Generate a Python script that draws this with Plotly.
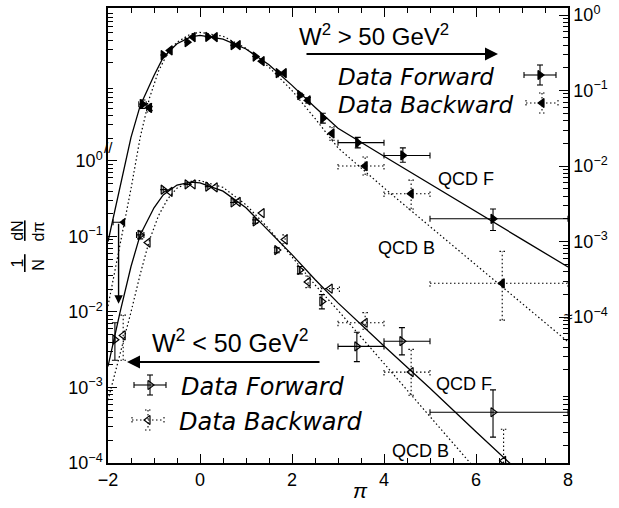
import math
import plotly.graph_objects as go

W, H = 619, 508
ML, MR, MT, MB = 108, 51, 8, 45
PW, PH = W - ML - MR, H - MT - MB      # 460 x 455
FONT = "Liberation Sans"
LFONT = "DejaVu Sans"
DOT = "1.5px,2.5px"


def P(px, py):
    """page pixel position -> fraction of plot area"""
    return (px - ML) / PW, (H - MB - py) / PH


# ---------------- QCD curves ----------------
# W^2 > 50 GeV^2 (right axis)
hiF_x = [-2.0, -1.67, -1.5, -1.3, -1.0, -0.8, -0.5, -0.2, 0.0, 0.5, 1.0, 1.5, 2.0, 2.5, 3.0, 4.0, 5.0, 6.0, 7.0, 8.0]
hiF_y = [1.0e-3, 8.7e-3, 0.024, 0.063, 0.158, 0.275, 0.417, 0.513, 0.537, 0.479, 0.355, 0.219, 0.117, 0.060,
         0.0316, 0.0135, 0.00575, 0.00245, 0.00107, 4.6e-4]
hiB_x = [-2.0, -1.8, -1.67, -1.5, -1.3, -1.1, -0.9, -0.7, -0.5, -0.2, 0.0, 0.5, 1.0, 1.5, 2.0, 2.5, 3.0, 4.0, 5.0,
         6.0, 7.0, 8.0]
hiB_y = [1.4e-4, 5.6e-4, 1.4e-3, 5.0e-3, 0.024, 0.079, 0.182, 0.316, 0.437, 0.562, 0.589, 0.525, 0.363, 0.204,
         0.100, 0.0427, 0.0174, 0.00513, 0.00158, 4.9e-4, 1.51e-4, 4.7e-5]
# W^2 < 50 GeV^2 (left axis)
loF_x = [-2.0, -1.74, -1.5, -1.3, -1.0, -0.8, -0.5, -0.2, 0.0, 0.5, 1.0, 1.5, 2.0, 2.5, 3.0, 4.0, 5.0, 6.0, 7.0, 8.0]
loF_y = [1.9e-3, 9.8e-3, 0.040, 0.105, 0.24, 0.355, 0.48, 0.525, 0.513, 0.398, 0.24, 0.117, 0.0575, 0.0269,
         0.0132, 3.55e-3, 9.8e-4, 2.6e-4, 7.1e-5, 1.9e-5]
loB_x = [-2.0, -1.75, -1.5, -1.3, -1.1, -0.9, -0.7, -0.5, -0.2, 0.0, 0.5, 1.0, 1.5, 2.0, 2.5, 3.0, 4.0, 5.0, 6.0,
         7.0, 8.0]
loB_y = [6.8e-4, 2.5e-3, 0.010, 0.0316, 0.089, 0.19, 0.316, 0.437, 0.537, 0.55, 0.447, 0.263, 0.126, 0.0537,
         0.0229, 0.0105, 2.1e-3, 4.2e-4, 8.1e-5, 1.6e-5, 3.2e-6]

# ---------------- data points ----------------
# W^2 > 50, forward
hdF_x = [-1.25, -0.80, -0.28, 0.17, 0.72, 1.20, 1.70, 2.17, 2.67, 3.43, 4.41, 6.37]
hdF_y = [0.066, 0.295, 0.437, 0.513, 0.398, 0.282, 0.170, 0.087, 0.043, 0.0204, 0.0138, 0.0020]
hdF_xlo = [0.08, 0, 0, 0, 0, 0, 0, 0, 0, 0.43, 0.41, 1.37]
hdF_xhi = [0.08, 0, 0, 0, 0, 0, 0, 0, 0, 0.57, 0.59, 1.63]
hdF_ylo = [0.058, 0.295, 0.437, 0.513, 0.398, 0.282, 0.170, 0.082, 0.037, 0.0174, 0.0112, 0.0014]
hdF_yhi = [0.075, 0.295, 0.437, 0.513, 0.398, 0.282, 0.170, 0.092, 0.050, 0.024, 0.0174, 0.0027]
# W^2 > 50, backward
hdB_x = [-1.67, -1.10, -0.65, -0.15, 0.33, 0.83, 1.35, 1.83, 2.35, 2.87, 3.59, 4.59, 6.57]
hdB_y = [0.0018, 0.059, 0.34, 0.51, 0.51, 0.40, 0.245, 0.17, 0.074, 0.027, 0.010, 0.0043, 2.8e-4]
hdB_xlo = [0.22, 0.06, 0, 0, 0, 0, 0, 0, 0, 0, 0.59, 0.59, 1.57]
hdB_xhi = [0.0, 0.06, 0, 0, 0, 0, 0, 0, 0, 0, 0.41, 0.41, 1.43]
hdB_ylo = [1.5e-4, 0.052, 0.34, 0.51, 0.51, 0.40, 0.245, 0.17, 0.068, 0.022, 0.0076, 0.0027, 9.1e-5]
hdB_yhi = [0.0018, 0.067, 0.34, 0.51, 0.51, 0.40, 0.245, 0.17, 0.081, 0.033, 0.0132, 0.0065, 7.4e-4]
# W^2 < 50, forward
ldF_x = [-1.85, -1.30, -0.80, -0.28, 0.17, 0.72, 1.20, 1.67, 2.17, 2.65, 3.41, 4.39, 6.37]
ldF_y = [0.0043, 0.105, 0.417, 0.49, 0.457, 0.282, 0.158, 0.066, 0.036, 0.0138, 0.0035, 0.0041, 4.7e-4]
ldF_xlo = [0, 0.08, 0, 0, 0, 0, 0, 0, 0, 0, 0.41, 0.39, 1.37]
ldF_xhi = [0, 0.08, 0, 0, 0, 0, 0, 0, 0, 0, 0.59, 0.61, 1.63]
ldF_ylo = [0.0023, 0.093, 0.417, 0.49, 0.457, 0.282, 0.150, 0.061, 0.032, 0.011, 0.0022, 0.0027, 2.2e-4]
ldF_yhi = [0.0072, 0.118, 0.417, 0.49, 0.457, 0.282, 0.166, 0.071, 0.040, 0.017, 0.0054, 0.0062, 9.3e-4]
# W^2 < 50, backward
ldB_x = [-1.67, -1.13, -0.65, -0.15, 0.33, 0.83, 1.35, 1.85, 2.35, 2.83, 3.59, 4.59, 6.60]
ldB_y = [0.0049, 0.083, 0.39, 0.49, 0.447, 0.288, 0.204, 0.091, 0.025, 0.0204, 0.0072, 0.0016, 1.07e-4]
ldB_xlo = [0, 0, 0, 0, 0, 0, 0, 0, 0, 0.2, 0.59, 0.59, 0]
ldB_xhi = [0, 0, 0, 0, 0, 0, 0, 0, 0, 0.2, 0.41, 0.41, 0]
ldB_ylo = [0.0023, 0.083, 0.39, 0.49, 0.447, 0.288, 0.204, 0.080, 0.021, 0.0204, 0.0059, 7.9e-4, 1.0e-4]
ldB_yhi = [0.0091, 0.083, 0.39, 0.49, 0.447, 0.288, 0.204, 0.105, 0.030, 0.0204, 0.0098, 0.0032, 2.8e-4]

# axis ticks
x_ticks = [-2, 0, 2, 4, 6, 8]
x_ticktext = ["\u22122", "0", "2", "4", "6", "8"]
y_ticks = [1e-4, 1e-3, 1e-2, 1e-1, 1]
y_ticktext = ["10<sup>\u22124</sup>", "10<sup>\u22123</sup>", "10<sup>\u22122</sup>", "10<sup>\u22121</sup>",
              "10<sup>0</sup>"]

fig = go.Figure()


def curve(x, y, dash, yaxis):
    fig.add_trace(go.Scatter(x=x, y=y, mode="lines", yaxis=yaxis, showlegend=False, hoverinfo="skip",
                             line=dict(color="black", width=1.3 if dash == "solid" else 1.2, dash=dash)))


curve(hiF_x, hiF_y, "solid", "y2")
curve(hiB_x, hiB_y, DOT, "y2")
curve(loF_x, loF_y, "solid", "y")
curve(loB_x, loB_y, DOT, "y")

MS = 8


def solid_points(x, y, xlo, xhi, ylo, yhi, symbol, yaxis):
    fig.add_trace(go.Scatter(
        x=x, y=y, mode="markers", yaxis=yaxis, showlegend=False,
        marker=dict(symbol=symbol, size=MS, color="black", line=dict(color="black", width=1.2)),
        error_x=dict(type="data", symmetric=False, array=xhi, arrayminus=xlo, color="black", thickness=1.1, width=3),
        error_y=dict(type="data", symmetric=False, array=[h - v for h, v in zip(yhi, y)],
                     arrayminus=[v - l for l, v in zip(ylo, y)], color="black", thickness=1.1, width=3)))


def dotted_points(x, y, xlo, xhi, ylo, yhi, symbol, yaxis):
    sx, sy = [], []
    for xi, yi, a, b, lo, hi in zip(x, y, xlo, xhi, ylo, yhi):
        if a > 0 or b > 0:
            sx += [xi - a, xi + b, None]
            sy += [yi, yi, None]
            for e in (xi - a, xi + b):
                if e != xi:
                    sx += [e, e, None]
                    sy += [yi * 10 ** -0.045, yi * 10 ** 0.045, None]
        if hi > yi or lo < yi:
            sx += [xi, xi, None]
            sy += [lo, hi, None]
            for e in (lo, hi):
                if e != yi:
                    sx += [xi - 0.06, xi + 0.06, None]
                    sy += [e, e, None]
    fig.add_trace(go.Scatter(x=sx, y=sy, mode="lines", yaxis=yaxis, showlegend=False, hoverinfo="skip",
                             line=dict(color="black", width=1.1, dash=DOT)))
    fig.add_trace(go.Scatter(x=x, y=y, mode="markers", yaxis=yaxis, showlegend=False,
                             marker=dict(symbol=symbol, size=MS, color="black",
                                         line=dict(color="black", width=1.2))))


solid_points(hdF_x, hdF_y, hdF_xlo, hdF_xhi, hdF_ylo, hdF_yhi, "triangle-right", "y2")
# the first backward point (upper) has a long downward error drawn as an arrow
dotted_points(hdB_x[1:], hdB_y[1:], hdB_xlo[1:], hdB_xhi[1:], hdB_ylo[1:], hdB_yhi[1:], "triangle-left", "y2")
fig.add_trace(go.Scatter(x=hdB_x[:1], y=hdB_y[:1], mode="markers", yaxis="y2", showlegend=False,
                         marker=dict(symbol="triangle-left", size=MS, color="black"),
                         error_x=dict(type="data", symmetric=False, array=hdB_xhi[:1], arrayminus=hdB_xlo[:1],
                                      color="black", thickness=1.1, width=3)))
fig.add_annotation(x=hdB_x[0] - 0.1, y=math.log10(hdB_ylo[0]), ax=hdB_x[0] - 0.1, ay=math.log10(hdB_y[0]),
                   xref="x", yref="y2", axref="x", ayref="y2", text="", showarrow=True,
                   arrowhead=2, arrowsize=1.2, arrowwidth=1.4, arrowcolor="black")

solid_points(ldF_x, ldF_y, ldF_xlo, ldF_xhi, ldF_ylo, ldF_yhi, "triangle-right-open", "y")
dotted_points(ldB_x, ldB_y, ldB_xlo, ldB_xhi, ldB_ylo, ldB_yhi, "triangle-left-open", "y")

# ---------------- legend blocks ----------------
legend_items = [  # (page px, page py, symbol, dotted)
    (540, 75, "triangle-right", False),
    (542, 103, "triangle-left", True),
    (150, 385, "triangle-right-open", False),
    (148, 420, "triangle-left-open", True),
]
shapes = []
for px, py, sym, dotted in legend_items:
    dash = DOT if dotted else "solid"
    for (x0, y0, x1, y1) in [(px - 16, py, px + 16, py), (px, py - 10, px, py + 10),
                             (px - 16, py - 3, px - 16, py + 3), (px + 16, py - 3, px + 16, py + 3),
                             (px - 3, py - 10, px + 3, py - 10), (px - 3, py + 10, px + 3, py + 10)]:
        a = P(x0, y0)
        b = P(x1, y1)
        shapes.append(dict(type="line", xref="paper", yref="paper", x0=a[0], y0=a[1], x1=b[0], y1=b[1],
                           line=dict(color="black", width=1.1, dash=dash)))
fig.add_trace(go.Scatter(x=[P(i[0], i[1])[0] for i in legend_items], y=[P(i[0], i[1])[1] for i in legend_items],
                         mode="markers", xaxis="x3", yaxis="y3", showlegend=False, hoverinfo="skip",
                         marker=dict(symbol=[i[2] for i in legend_items], size=MS, color="black",
                                     line=dict(color="black", width=1.2))))


def text(px, py, s, size, italic=False, anchor="left", angle=0, family=FONT):
    x, y = P(px, py)
    fig.add_annotation(x=x, y=y, xref="paper", yref="paper", text=s, showarrow=False, xanchor=anchor,
                       yanchor="middle", textangle=angle,
                       font=dict(family=family, size=size, color="black",
                                 style="italic" if italic else "normal"))


def arrow(px_head, px_tail, py):
    x, y = P(px_head, py)
    fig.add_annotation(x=x, y=y, xref="paper", yref="paper", ax=px_tail - px_head, ay=0, text="",
                       showarrow=True, arrowhead=2, arrowsize=1.3, arrowwidth=2, arrowcolor="black")


text(297, 35, "W<sup>2</sup> > 50 GeV<sup>2</sup>", 24)
arrow(498, 305, 54)
text(336, 77, "Data Forward", 23, italic=True, family=LFONT)
text(336, 105, "Data Backward", 23, italic=True, family=LFONT)

text(150, 341, "W<sup>2</sup> < 50 GeV<sup>2</sup>", 25)
arrow(127, 321, 362)
text(179, 387, "Data Forward", 24, italic=True, family=LFONT)
text(177, 422, "Data Backward", 24, italic=True, family=LFONT)

text(436, 179, "QCD F", 18)
text(376, 248, "QCD B", 18)
text(434, 384, "QCD F", 18)
text(390, 451, "QCD B", 18)

# break marks on the axes
text(108, 147, "//", 15, anchor="center")
text(568, 316, "\u2248", 16, anchor="center")

# axis titles
text(360, 490, "\u03c0", 21, italic=True, anchor="center")
text(28, 246, "<u> 1 </u>   <u>dN</u><br>N    d\u03c0", 16, anchor="center", angle=-90)

axis_common = dict(showgrid=False, zeroline=False, showline=True, linecolor="black", linewidth=1.5,
                   ticks="inside", ticklen=9, tickwidth=1.1, tickcolor="black", ticklabeloverflow="allow",
                   tickfont=dict(family=FONT, size=18, color="black"))

minor_log = [k * 10.0 ** e for e in range(-7, 3) for k in range(2, 10)]

fig.update_layout(
    width=W, height=H, margin=dict(l=ML, r=MR, t=MT, b=MB, autoexpand=False),
    plot_bgcolor="white", paper_bgcolor="white", showlegend=False,
    shapes=shapes,
    xaxis=dict(range=[-2, 8], tickvals=x_ticks, ticktext=x_ticktext, mirror="ticks",
               minor=dict(tickvals=[v / 2 for v in range(-4, 17) if v % 4 != 0], ticklen=5, ticks="inside",
                          tickcolor="black"), **axis_common),
    yaxis=dict(type="log", range=[-4, 2.026], tickvals=y_ticks, ticktext=y_ticktext,
               minor=dict(tickvals=minor_log, ticklen=5, ticks="inside", tickcolor="black"), **axis_common),
    yaxis2=dict(type="log", range=[-5.933, 0.093], overlaying="y", side="right", anchor="x",
                tickvals=y_ticks, ticktext=y_ticktext,
                minor=dict(tickvals=minor_log, ticklen=5, ticks="inside", tickcolor="black"), **axis_common),
    xaxis3=dict(range=[0, 1], overlaying="x", visible=False),
    yaxis3=dict(range=[0, 1], overlaying="y", visible=False),
)

fig.write_html("out.html", config={"displayModeBar": False},
               post_script="document.body.style.margin='0';")
